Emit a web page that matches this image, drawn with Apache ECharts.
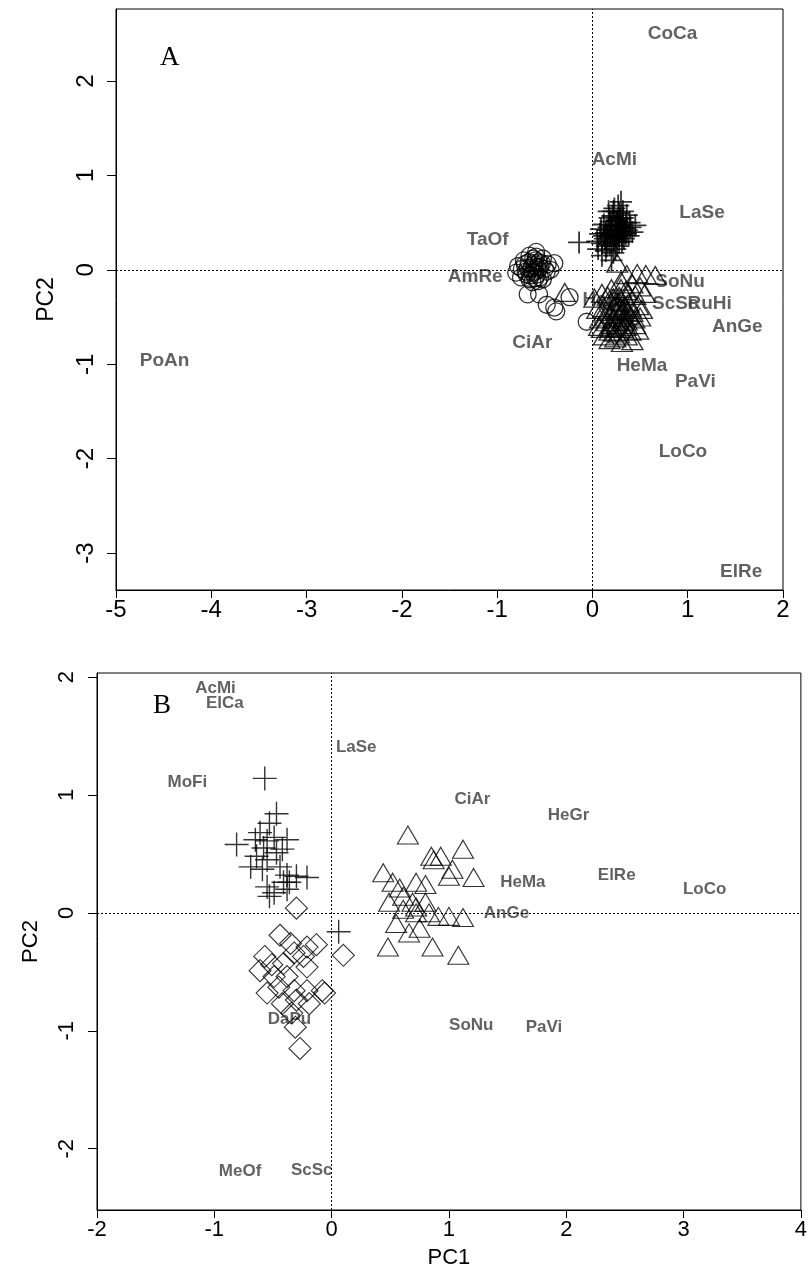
<!DOCTYPE html>
<html>
<head>
<meta charset="utf-8">
<script src="https://cdn.jsdelivr.net/npm/echarts@6/dist/echarts.min.js"></script>
<style>
html,body{margin:0;padding:0;background:#fff;}
#chart{width:810px;height:1275px;}
</style>
</head>
<body>
<div id="chart"></div>
<script>
// ---------- Panel A data ----------
const aTicksX = [-5, -4, -3, -2, -1, 0, 1, 2];
const aTicksY = [-3, -2, -1, 0, 1, 2];
const aCircles = [
  [-0.80,-0.03],[-0.78,0.04],[-0.72,0.10],[-0.66,0.15],[-0.59,0.19],[-0.52,0.12],[-0.47,0.06],
  [-0.70,-0.02],[-0.62,0.05],[-0.55,0.03],[-0.48,-0.02],[-0.75,-0.08],[-0.65,-0.06],
  [-0.58,-0.05],[-0.52,-0.10],[-0.44,0.00],[-0.40,0.07],[-0.68,0.02],[-0.60,0.10],
  [-0.63,-0.13],[-0.57,0.00],[-0.53,0.07],[-0.71,0.06],[-0.66,-0.10],[-0.60,-0.02],
  [-0.64,0.02],[-0.61,0.07],[-0.58,0.03],[-0.63,-0.03],[-0.67,0.08],[-0.56,0.08],
  [-0.62,0.12],[-0.69,-0.05],[-0.55,-0.08],[-0.60,-0.09],[-0.65,0.00],[-0.59,0.14],
  [-0.74,0.01],[-0.50,0.01],[-0.57,-0.12],
  [-0.68,-0.26],[-0.56,-0.26],[-0.48,-0.37],[-0.38,-0.44],[-0.40,-0.40],[-0.24,-0.29],[-0.06,-0.55]
];
const aCrosses = [
  [0.22,0.62],[0.28,0.60],[0.32,0.55],[0.18,0.55],[0.25,0.52],[0.35,0.50],
  [0.12,0.48],[0.20,0.47],[0.30,0.45],[0.40,0.45],[0.15,0.42],[0.24,0.42],
  [0.33,0.40],[0.08,0.38],[0.19,0.37],[0.28,0.36],[0.38,0.36],[0.13,0.33],
  [0.23,0.32],[0.31,0.30],[0.10,0.28],[0.18,0.27],[0.26,0.25],[0.06,0.22],
  [0.14,0.20],[0.22,0.18],[0.30,0.48],[0.27,0.68],[0.36,0.58],[0.17,0.62],
  [0.42,0.40],[0.10,0.15],[0.20,0.10],[0.26,0.52],
  [0.21,0.57],[0.29,0.54],[0.24,0.47],[0.34,0.44],[0.17,0.45],[0.27,0.41],
  [0.21,0.40],[0.31,0.37],[0.36,0.42],[0.16,0.35],[0.25,0.34],[0.33,0.33],
  [0.20,0.30],[0.28,0.29],[0.12,0.36],[0.39,0.50],[0.23,0.65],[0.32,0.62],
  [0.45,0.47],[0.05,0.30],[0.15,0.25],[0.24,0.22],[0.09,0.43],[0.30,0.72],
  [0.19,0.51],[0.27,0.46],[0.35,0.38],[0.23,0.37],[0.29,0.40],[0.14,0.39],
  [-0.14,0.29]
];
const aTriangles = [
  [0.26,0.07],[0.36,-0.05],[0.47,-0.04],[0.56,-0.05],[0.66,-0.06],
  [0.30,-0.12],[0.42,-0.15],[0.50,-0.18],[0.20,-0.20],[0.35,-0.22],
  [0.10,-0.25],[0.28,-0.28],[0.45,-0.27],[0.55,-0.25],[0.02,-0.30],
  [0.18,-0.32],[0.38,-0.35],[0.48,-0.38],[0.25,-0.38],[0.12,-0.40],
  [0.05,-0.42],[0.32,-0.42],[0.42,-0.45],[0.20,-0.47],[0.28,-0.50],
  [0.50,-0.50],[0.08,-0.52],[0.36,-0.54],[0.15,-0.55],[0.25,-0.58],
  [0.45,-0.58],[0.07,-0.60],[0.32,-0.62],[0.40,-0.65],[0.18,-0.65],
  [0.28,-0.68],[0.12,-0.70],[0.18,-0.74],[0.31,-0.77],[0.42,-0.75],
  [0.36,-0.70],[0.52,-0.42],[0.22,-0.30],
  [0.30,-0.33],[0.34,-0.38],[0.26,-0.43],[0.30,-0.47],[0.22,-0.52],[0.32,-0.55],
  [0.38,-0.48],[0.20,-0.58],[0.28,-0.62],[0.35,-0.60],[0.24,-0.66],[0.16,-0.44],
  [0.40,-0.40],[0.26,-0.34],[0.14,-0.50],[0.44,-0.52],[0.22,-0.40],[0.33,-0.50],
  [0.10,-0.62],[0.48,-0.64],[0.24,-0.72],[0.38,-0.25],[0.30,-0.20],[0.16,-0.28],
  [0.27,-0.55],[0.37,-0.44],[0.19,-0.61],[0.29,-0.40],
  [-0.29,-0.24]
];
const aLabelNames = ['CoCa','AcMi','LaSe','TaOf','AmRe','SoNu','HeGr','ScSc','RuHi','AnGe','CiAr','HeMa','PaVi','PoAn','LoCo','ElRe'];
const aLabelX     = [0.84, 0.23, 1.15, -1.10, -1.23, 0.92, 0.14, 0.87, 1.23, 1.52, -0.63, 0.52, 1.08, -4.49, 0.95, 1.56];
const aLabelY     = [2.50, 1.17, 0.60, 0.32, -0.07, -0.13, -0.32, -0.36, -0.36, -0.60, -0.77, -1.02, -1.19, -0.96, -1.93, -3.20];

// ---------- Panel B data ----------
const bTicksX = [-2, -1, 0, 1, 2, 3, 4];
const bTicksY = [-2, -1, 0, 1, 2];
const bCrosses = [
  [-0.57,1.14],[-0.47,0.84],[-0.53,0.76],[-0.81,0.58],[-0.65,0.62],[-0.61,0.68],[-0.55,0.61],
  [-0.58,0.55],[-0.49,0.64],[-0.42,0.54],[-0.38,0.62],[-0.64,0.48],[-0.55,0.45],[-0.47,0.51],
  [-0.30,0.31],[-0.38,0.32],[-0.21,0.30],[-0.36,0.26],[-0.55,0.22],[-0.49,0.17],[-0.69,0.39],
  [-0.59,0.37],[-0.44,0.39],[-0.41,0.26],[-0.53,0.14],[-0.38,0.20],[0.06,-0.16]
];
const bDiamonds = [
  [-0.30,0.04],[0.10,-0.36],[-0.44,-0.19],[-0.57,-0.37],[-0.35,-0.26],[-0.21,-0.29],
  [-0.13,-0.27],[-0.32,-0.34],[-0.24,-0.37],[-0.41,-0.43],[-0.61,-0.49],[-0.49,-0.54],
  [-0.38,-0.54],[-0.21,-0.46],[-0.55,-0.68],[-0.45,-0.63],[-0.32,-0.66],[-0.21,-0.66],
  [-0.08,-0.66],[-0.06,-0.68],[-0.42,-0.77],[-0.30,-0.74],[-0.19,-0.77],[-0.34,-0.85],
  [-0.31,-0.97],[-0.27,-1.15],[-0.51,-0.44]
];
const bTriangles = [
  [0.65,0.66],[1.12,0.54],[0.85,0.48],[0.93,0.48],[0.87,0.45],[0.44,0.34],[1.03,0.37],
  [1.21,0.30],[1.00,0.31],[0.52,0.26],[0.72,0.26],[0.80,0.24],[0.58,0.21],[0.49,0.09],
  [0.61,0.14],[0.69,0.09],[0.80,0.09],[0.61,0.03],[0.72,0.00],[0.83,0.00],[0.91,-0.03],
  [1.00,-0.03],[1.12,-0.04],[0.66,-0.17],[0.75,-0.13],[0.55,-0.09],[0.48,-0.29],
  [0.86,-0.29],[1.08,-0.36],[0.72,0.05]
];
const bLabelNames = ['AcMi','ElCa','LaSe','MoFi','CiAr','HeGr','HeMa','ElRe','LoCo','AnGe','DaPu','SoNu','PaVi','MeOf','ScSc'];
const bLabelX     = [-0.99, -0.91, 0.21, -1.23, 1.20, 2.02, 1.63, 2.43, 3.18, 1.49, -0.36, 1.19, 1.81, -0.78, -0.17];
const bLabelY     = [1.90, 1.78, 1.40, 1.11, 0.96, 0.83, 0.26, 0.32, 0.20, 0.00, -0.90, -0.95, -0.97, -2.19, -2.18];

// ---------- build chart ----------
const crossPath = 'path://M10,0 L10,20 M0,10 L20,10';
const hollowA = {color: 'rgba(0,0,0,0)', borderColor: '#000', borderWidth: 1.3};
const hollowB = {color: 'rgba(0,0,0,0)', borderColor: '#000', borderWidth: 1.1};
const crossA = {color: 'rgba(0,0,0,0)', borderColor: '#000', borderWidth: 1.8};
const crossB = {color: 'rgba(0,0,0,0)', borderColor: '#000', borderWidth: 1.4};

function labelData(names, xs, ys) {
  return names.map((n, i) => ({name: n, value: [xs[i], ys[i]]}));
}
function labelSeries(idx, names, xs, ys, size) {
  return {
    type: 'scatter', xAxisIndex: idx, yAxisIndex: idx, z: 1,
    symbolSize: 1, itemStyle: {color: 'rgba(0,0,0,0)'},
    data: labelData(names, xs, ys),
    label: {show: true, position: 'inside', formatter: '{b}', color: '#3a3a3a',
            fontFamily: 'Liberation Sans, Arial, sans-serif', fontWeight: 'bold', fontSize: size},
    silent: true, animation: false
  };
}
function markSeries(idx, data, symbol, size, style) {
  return {type: 'scatter', xAxisIndex: idx, yAxisIndex: idx, z: 3, data: data,
          symbol: symbol, symbolSize: size, itemStyle: style, silent: true, animation: false};
}
const refLines = idx => ({
  type: 'scatter', xAxisIndex: idx, yAxisIndex: idx, data: [], z: 2, silent: true,
  markLine: {silent: true, symbol: ['none','none'], animation: false, label: {show: false},
             lineStyle: {color: '#000', width: 1, type: [2, 2]},
             data: [{xAxis: 0}, {yAxis: 0}]}
});

const axisFont = 'Liberation Sans, Arial, sans-serif';
const option = {
  backgroundColor: '#fff',
  animation: false,
  grid: [
    {left: 116, top: 9, width: 667, height: 581, show: true, borderColor: '#000', borderWidth: 1, backgroundColor: 'transparent'},
    {left: 97, top: 673, width: 710, height: 537, show: true, borderColor: '#000', borderWidth: 1, backgroundColor: 'transparent'}
  ],
  xAxis: [
    {type: 'value', gridIndex: 0, min: -5, max: 2, interval: 1,
     axisLine: {show: true, onZero: false, lineStyle: {color: '#000'}},
     axisTick: {show: true, length: 8, lineStyle: {color: '#000'}},
     axisLabel: {color: '#000', fontSize: 24, fontFamily: axisFont, margin: 8},
     splitLine: {show: false}},
    {type: 'value', gridIndex: 1, min: -2, max: 4, interval: 1,
     name: 'PC1', nameLocation: 'middle', nameGap: 37,
     nameTextStyle: {color: '#000', fontSize: 22, fontFamily: axisFont},
     axisLine: {show: true, onZero: false, lineStyle: {color: '#000'}},
     axisTick: {show: true, length: 8, lineStyle: {color: '#000'}},
     axisLabel: {color: '#000', fontSize: 22, fontFamily: axisFont, margin: 9},
     splitLine: {show: false}}
  ],
  yAxis: [
    {type: 'value', gridIndex: 0, min: -3.392, max: 2.763,
     name: 'PC2', nameLocation: 'middle', nameGap: 58, nameRotate: 90,
     nameTextStyle: {color: '#000', fontSize: 23, fontFamily: axisFont},
     axisLine: {show: true, onZero: false, lineStyle: {color: '#000'}},
     axisTick: {show: true, length: 9, customValues: aTicksY, lineStyle: {color: '#000'}},
     axisLabel: {color: '#000', fontSize: 24, fontFamily: axisFont, margin: 18, rotate: 90, customValues: aTicksY},
     splitLine: {show: false}},
    {type: 'value', gridIndex: 1, min: -2.52, max: 2.034,
     name: 'PC2', nameLocation: 'middle', nameGap: 55, nameRotate: 90,
     nameTextStyle: {color: '#000', fontSize: 22, fontFamily: axisFont},
     axisLine: {show: true, onZero: false, lineStyle: {color: '#000'}},
     axisTick: {show: true, length: 9, customValues: bTicksY, lineStyle: {color: '#000'}},
     axisLabel: {color: '#000', fontSize: 22, fontFamily: axisFont, margin: 19, rotate: 90, customValues: bTicksY},
     splitLine: {show: false}}
  ],
  graphic: [
    {type: 'text', left: 160, top: 44, style: {text: 'A', font: '27px "Liberation Serif", "Times New Roman", serif', fill: '#000'}},
    {type: 'text', left: 153, top: 692, style: {text: 'B', font: '27px "Liberation Serif", "Times New Roman", serif', fill: '#000'}}
  ],
  series: [
    refLines(0),
    labelSeries(0, aLabelNames, aLabelX, aLabelY, 19),
    markSeries(0, aCircles, 'circle', 17, hollowA),
    markSeries(0, aCrosses, crossPath, 22, crossA),
    markSeries(0, aTriangles, 'triangle', [21, 18], hollowA),
    refLines(1),
    labelSeries(1, bLabelNames, bLabelX, bLabelY, 17),
    markSeries(1, bCrosses, crossPath, 24, crossB),
    markSeries(1, bDiamonds, 'diamond', 22, hollowB),
    markSeries(1, bTriangles, 'triangle', [21, 18], hollowB)
  ]
};
const chart = echarts.init(document.getElementById('chart'), null, {renderer: 'canvas'});
chart.setOption(option);
</script>
</body>
</html>
